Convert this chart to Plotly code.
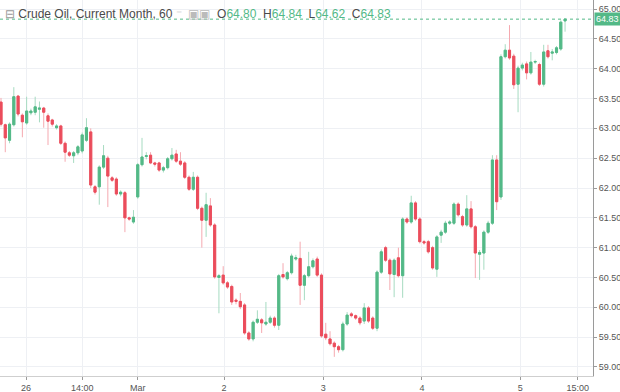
import plotly.graph_objects as go

# ---- data (hourly candles) ----
opens = [63.44, 63.06, 62.80, 63.06, 63.54, 63.22, 63.09, 63.26, 63.27, 63.32,
         63.34, 63.21, 63.14, 63.01, 63.04, 62.75, 62.59, 62.54, 62.59, 62.62,
         62.80, 62.94, 62.02, 62.02, 62.35, 62.50, 62.17, 62.15, 61.90, 61.92,
         61.50, 61.43, 61.85, 62.39, 62.53, 62.55, 62.42, 62.42, 62.30, 62.34,
         62.49, 62.57, 62.45, 62.42, 62.18, 61.98, 62.18, 61.66, 61.46, 61.70,
         61.38, 60.50, 60.54, 60.41, 60.35, 60.12, 60.10, 60.04, 59.57, 59.47,
         59.75, 59.79, 59.72, 59.75, 59.82, 59.70, 60.55, 60.48, 60.58, 60.81,
         60.82, 60.37, 60.53, 60.68, 60.81, 60.54, 59.55, 59.47, 59.40, 59.34,
         59.29, 59.72, 59.89, 59.86, 59.82, 59.77, 59.99, 59.82, 59.65, 60.59,
         61.00, 60.79, 60.55, 60.83, 60.53, 61.48, 61.43, 61.75, 61.48, 61.10,
         61.10, 61.00, 60.64, 61.21, 61.26, 61.41, 61.41, 61.73, 61.52, 61.38,
         61.65, 61.35, 60.89, 60.91, 61.26, 61.41, 62.47, 61.85, 64.20, 64.31,
         64.21, 63.74, 64.01, 64.08, 63.93, 64.11, 64.07, 63.74, 64.30, 64.26,
         64.27, 64.33, 64.80]
highs = [63.51, 63.08, 63.10, 63.69, 63.56, 63.25, 63.53, 63.33, 63.53, 63.45,
         63.36, 63.25, 63.16, 63.07, 63.06, 62.78, 62.62, 62.62, 62.72, 62.93,
         63.17, 63.00, 62.05, 62.38, 62.72, 62.54, 62.20, 62.18, 61.96, 61.95,
         61.52, 61.63, 62.42, 62.84, 62.60, 62.60, 62.44, 62.44, 62.37, 62.52,
         62.67, 62.64, 62.60, 62.45, 62.21, 62.27, 62.21, 61.69, 61.92, 61.83,
         61.41, 60.56, 60.69, 60.44, 60.38, 60.15, 60.24, 60.07, 59.60, 59.78,
         59.95, 59.82, 60.09, 59.86, 59.85, 60.56, 60.74, 60.61, 60.90, 60.88,
         61.10, 60.56, 60.93, 60.82, 60.85, 60.57, 59.74, 59.60, 59.43, 59.37,
         59.76, 59.92, 59.92, 59.88, 59.85, 60.07, 60.02, 59.85, 60.62, 60.97,
         61.03, 60.82, 60.82, 61.00, 61.51, 61.51, 61.87, 61.78, 61.51, 61.13,
         61.13, 61.03, 61.21, 61.30, 61.45, 61.46, 61.76, 61.76, 61.55, 61.88,
         61.78, 61.38, 60.96, 61.29, 61.45, 62.55, 62.55, 64.24, 64.41, 64.73,
         64.25, 64.05, 64.10, 64.12, 64.28, 64.15, 64.10, 64.40, 64.40, 64.33,
         64.38, 64.81, 64.84]
lows = [63.03, 62.60, 62.75, 63.03, 63.20, 62.85, 63.06, 63.22, 63.22, 63.10,
        63.01, 62.72, 63.03, 62.98, 62.72, 62.44, 62.52, 62.42, 62.55, 62.58,
        62.77, 62.00, 61.89, 61.72, 62.32, 61.68, 62.10, 61.87, 61.86, 61.26,
        61.45, 61.40, 61.82, 62.36, 62.48, 62.40, 62.36, 62.27, 62.26, 62.31,
        62.46, 62.42, 62.37, 62.15, 61.95, 61.95, 61.63, 61.00, 61.18, 61.35,
        60.48, 59.90, 60.38, 60.31, 60.04, 60.05, 59.97, 59.54, 59.44, 59.43,
        59.72, 59.57, 59.69, 59.72, 59.66, 59.62, 60.48, 60.45, 60.55, 60.78,
        60.04, 60.12, 60.50, 60.65, 60.51, 59.49, 59.45, 59.36, 59.17, 59.24,
        59.26, 59.69, 59.83, 59.79, 59.70, 59.72, 59.74, 59.62, 59.60, 60.56,
        60.76, 60.29, 60.17, 60.50, 60.16, 61.40, 61.40, 61.45, 61.07, 61.05,
        60.90, 60.63, 60.51, 61.08, 61.23, 61.38, 61.38, 61.52, 61.35, 61.35,
        61.32, 60.49, 60.46, 60.63, 61.23, 61.38, 61.63, 61.80, 64.17, 64.15,
        63.66, 63.27, 63.97, 63.82, 63.90, 64.08, 63.71, 63.70, 64.17, 64.14,
        64.24, 64.30, 64.62]
closes = [63.07, 62.84, 63.07, 63.53, 63.24, 63.11, 63.29, 63.29, 63.36, 63.34,
          63.27, 63.12, 63.07, 63.04, 62.75, 62.60, 62.55, 62.59, 62.69, 62.89,
          63.01, 62.05, 61.93, 62.35, 62.54, 62.20, 62.13, 61.90, 61.93, 61.50,
          61.48, 61.51, 62.39, 62.52, 62.54, 62.42, 62.40, 62.30, 62.34, 62.49,
          62.55, 62.45, 62.40, 62.18, 61.98, 62.18, 61.66, 61.46, 61.72, 61.38,
          60.51, 60.53, 60.41, 60.34, 60.09, 60.10, 60.01, 59.57, 59.47, 59.75,
          59.80, 59.74, 59.75, 59.82, 59.70, 60.53, 60.51, 60.58, 60.86, 60.83,
          60.37, 60.53, 60.68, 60.78, 60.54, 59.52, 59.49, 59.39, 59.34, 59.29,
          59.72, 59.87, 59.86, 59.82, 59.74, 59.99, 59.77, 59.65, 60.59, 60.93,
          60.79, 60.56, 60.79, 60.53, 61.48, 61.43, 61.75, 61.48, 61.10, 61.08,
          60.93, 60.66, 61.18, 61.26, 61.41, 61.43, 61.73, 61.55, 61.38, 61.65,
          61.35, 60.91, 60.92, 61.26, 61.41, 62.47, 61.77, 64.20, 64.31, 64.18,
          63.73, 64.01, 64.06, 63.93, 64.11, 64.12, 63.74, 64.28, 64.20, 64.28,
          64.35, 64.78, 64.83]

tick_pos = [5.85, 19.0, 32.0, 52.2, 75.4, 98.5, 121.5, 135.0]
tick_text = ["26", "14:00", "Mar", "2", "3", "4", "5", "15:00"]
price_ticks = [59.0, 59.5, 60.0, 60.5, 61.0, 61.5, 62.0, 62.5, 63.0, 63.5, 64.0, 64.5, 65.0]

title_name = "Crude Oil, Current Month, 60"
last_o, last_h, last_l, last_c = 64.80, 64.84, 64.62, 64.83

GREEN = "#53b987"
RED = "#eb4d5c"
GREEN_W = "#a6dbc1"
RED_W = "#f5a9b0"

idx = list(range(len(opens)))
body_hi = [max(o, c) for o, c in zip(opens, closes)]
body_lo = [min(o, c) for o, c in zip(opens, closes)]

fig = go.Figure()
# wicks
fig.add_trace(go.Candlestick(
    x=idx, open=opens, high=highs, low=lows, close=closes,
    increasing=dict(line=dict(color=GREEN_W, width=1), fillcolor=GREEN_W),
    decreasing=dict(line=dict(color=RED_W, width=1), fillcolor=RED_W),
    hoverinfo="skip", showlegend=False))
# bodies
fig.add_trace(go.Candlestick(
    x=idx, open=opens, high=body_hi, low=body_lo, close=closes,
    increasing=dict(line=dict(color=GREEN, width=1), fillcolor=GREEN),
    decreasing=dict(line=dict(color=RED, width=1), fillcolor=RED),
    hoverinfo="skip", showlegend=False))

# last price dotted line and label
fig.add_shape(type="line", xref="paper", x0=0, x1=1, yref="y", y0=last_c, y1=last_c,
              line=dict(color=GREEN, width=1, dash="dot"))
fig.add_annotation(xref="paper", x=1, xanchor="left", xshift=1, yref="y", y=last_c,
                   text=f"{last_c:.2f}", showarrow=False, bgcolor=GREEN,
                   font=dict(color="white", size=9, family="Liberation Sans"),
                   borderpad=1)

# header
num = lambda v: f'<span style="color:{GREEN}">{v:.2f}</span>'
header = (f'<span style="color:#9a9a9a">⊟</span> {title_name} '
          f'<span style="color:#bbbbbb">⁻  ▣▣</span>  '
          f'O{num(last_o)}  H{num(last_h)}  L{num(last_l)}  C{num(last_c)}')
fig.add_annotation(xref="paper", yref="paper", x=0, y=1, xanchor="left", yanchor="top",
                   xshift=3, yshift=-5, text=header, showarrow=False,
                   font=dict(color="#4a4a4a", size=12, family="Liberation Sans"))

fig.update_layout(
    width=620, height=392,
    margin=dict(l=0, r=27, t=0, b=16),
    paper_bgcolor="white", plot_bgcolor="white",
    font=dict(family="Liberation Sans", color="#555555", size=9),
    showlegend=False,
    xaxis=dict(range=[-0.234, 138.54], rangeslider=dict(visible=False),
               tickmode="array", tickvals=tick_pos, ticktext=tick_text,
               showgrid=True, gridcolor="#eef0f4", gridwidth=1,
               ticks="outside", ticklen=3, tickcolor="#9a9a9a",
               showline=True, linecolor="#cfcfcf", linewidth=1,
               zeroline=False, tickfont=dict(size=9, color="#555555")),
    yaxis=dict(range=[58.849, 65.151], side="right",
               tickmode="array", tickvals=price_ticks,
               ticktext=[f"{v:.2f}" for v in price_ticks],
               showgrid=True, gridcolor="#eef0f4", gridwidth=1,
               ticks="outside", ticklen=3, tickcolor="#9a9a9a",
               showline=True, linecolor="#9a9a9a", linewidth=1,
               zeroline=False, tickfont=dict(size=9, color="#555555")),
)

fig.write_html("out.html", config={"displayModeBar": False},
               post_script="document.body.style.margin='0';document.body.style.overflow='hidden';")
